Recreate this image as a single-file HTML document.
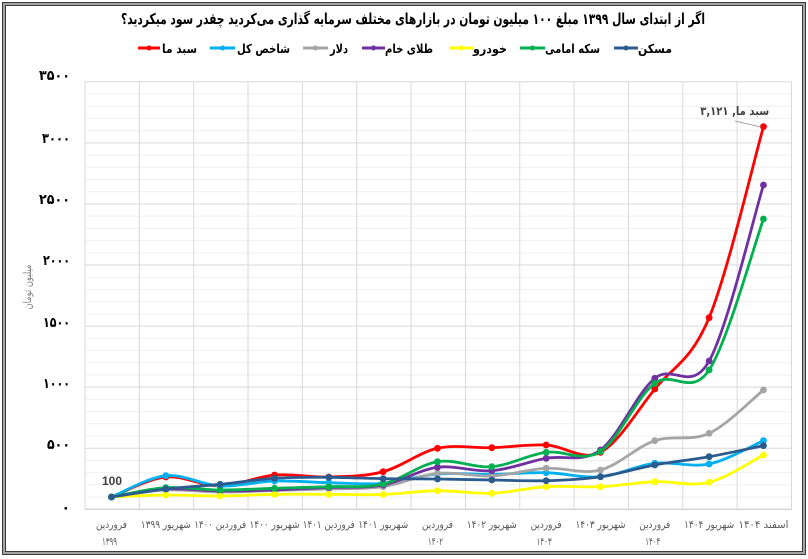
<!DOCTYPE html>
<html>
<head>
<meta charset="utf-8">
<style>
html,body{margin:0;padding:0;background:#fff;}
body{width:808px;height:559px;overflow:hidden;}
svg{display:block;}
.fa{font-family:"DejaVu Sans","Liberation Sans",sans-serif;}
</style>
</head>
<body>
<svg id="c" width="808" height="559" viewBox="0 0 808 559" xmlns="http://www.w3.org/2000/svg">
  <!-- frame -->
  <rect x="2" y="2" width="804" height="553" fill="#3c3c3c"/>
  <rect x="3" y="3" width="802" height="551" fill="#a3a3a3"/>
  <rect x="5" y="5" width="798" height="547" fill="#3c3c3c"/>
  <rect x="6" y="6" width="796" height="545" fill="#ffffff"/>

  <!-- title -->
  <text class="fa" x="413" y="24" font-size="15" font-weight="bold" fill="#000" text-anchor="middle" direction="rtl" textLength="584" lengthAdjust="spacingAndGlyphs">اگر از ابتدای سال ۱۳۹۹ مبلغ ۱۰۰ میلیون تومان  در بازارهای مختلف سرمایه گذاری می‌کردید چقدر سود میکردید؟</text>

  <!-- legend -->
  <g stroke-width="3" stroke-linecap="butt">
    <line x1="138" y1="48" x2="160" y2="48" stroke="#FF0000"/>
    <line x1="210" y1="48" x2="235" y2="48" stroke="#00B0F0"/>
    <line x1="303" y1="48" x2="328" y2="48" stroke="#A5A5A5"/>
    <line x1="362" y1="48" x2="385" y2="48" stroke="#7030A0"/>
    <line x1="449" y1="48" x2="473" y2="48" stroke="#FFFF00"/>
    <line x1="520" y1="48" x2="545" y2="48" stroke="#00B050"/>
    <line x1="614" y1="48" x2="638" y2="48" stroke="#2B5B8E"/>
  </g>
  <g>
    <circle cx="149" cy="48" r="2.5" fill="#FF0000"/>
    <circle cx="222.5" cy="48" r="2.5" fill="#00B0F0"/>
    <circle cx="315.5" cy="48" r="2.5" fill="#A5A5A5"/>
    <circle cx="373.5" cy="48" r="2.5" fill="#7030A0"/>
    <circle cx="461" cy="48" r="2.5" fill="#FFFF00"/>
    <circle cx="532.5" cy="48" r="2.5" fill="#00B050"/>
    <circle cx="626" cy="48" r="2.5" fill="#2B5B8E"/>
  </g>
  <g class="fa" font-size="12.5" font-weight="bold" fill="#000" text-anchor="middle" direction="rtl">
    <text x="179.5" y="53" textLength="35" lengthAdjust="spacingAndGlyphs">سبد ما</text>
    <text x="263.5" y="53" textLength="53" lengthAdjust="spacingAndGlyphs">شاخص کل</text>
    <text x="339" y="53" textLength="18" lengthAdjust="spacingAndGlyphs">دلار</text>
    <text x="409" y="53" textLength="48" lengthAdjust="spacingAndGlyphs">طلای خام</text>
    <text x="490" y="53" textLength="34" lengthAdjust="spacingAndGlyphs">خودرو</text>
    <text x="572.5" y="53" textLength="55" lengthAdjust="spacingAndGlyphs">سکه امامی</text>
    <text x="655" y="53" textLength="34" lengthAdjust="spacingAndGlyphs">مسکن</text>
  </g>

  <!-- grid -->
  <g id="grid"></g>

  <!-- y axis labels -->
  <g class="fa" font-size="14" font-weight="bold" fill="#000" text-anchor="end">
    <text x="70" y="80" textLength="31" lengthAdjust="spacingAndGlyphs">۳۵۰۰</text>
    <text x="70" y="143" textLength="28" lengthAdjust="spacingAndGlyphs">۳۰۰۰</text>
    <text x="70" y="204" textLength="31" lengthAdjust="spacingAndGlyphs">۲۵۰۰</text>
    <text x="70" y="265" textLength="27" lengthAdjust="spacingAndGlyphs">۲۰۰۰</text>
    <text x="70" y="327" textLength="27" lengthAdjust="spacingAndGlyphs">۱۵۰۰</text>
    <text x="70" y="388" textLength="27" lengthAdjust="spacingAndGlyphs">۱۰۰۰</text>
    <text x="70" y="449" textLength="23" lengthAdjust="spacingAndGlyphs">۵۰۰</text>
    <text x="70" y="512">۰</text>
  </g>

  <!-- y axis title -->
  <text class="fa" x="0" y="0" font-size="11" fill="#808080" text-anchor="middle" direction="rtl" transform="translate(31,287) rotate(-90)" textLength="45" lengthAdjust="spacingAndGlyphs">میلیون تومان</text>

  <!-- x axis labels -->
  <g class="fa" font-size="10.5" fill="#595959" text-anchor="middle" direction="rtl">
    <text x="111.5" y="528" textLength="31" lengthAdjust="spacingAndGlyphs">فروردین</text>
    <text x="109.5" y="545" textLength="15" lengthAdjust="spacingAndGlyphs">۱۳۹۹</text>
    <text x="165.8" y="528" textLength="50" lengthAdjust="spacingAndGlyphs">شهریور ۱۳۹۹</text>
    <text x="220.2" y="528" textLength="52" lengthAdjust="spacingAndGlyphs">فروردین ۱۴۰۰</text>
    <text x="274.5" y="528" textLength="50" lengthAdjust="spacingAndGlyphs">شهریور ۱۴۰۰</text>
    <text x="328.8" y="528" textLength="52" lengthAdjust="spacingAndGlyphs">فروردین ۱۴۰۱</text>
    <text x="383.2" y="528" textLength="50" lengthAdjust="spacingAndGlyphs">شهریور ۱۴۰۱</text>
    <text x="437.5" y="528" textLength="31" lengthAdjust="spacingAndGlyphs">فروردین</text>
    <text x="435.5" y="545" textLength="15" lengthAdjust="spacingAndGlyphs">۱۴۰۲</text>
    <text x="491.8" y="528" textLength="50" lengthAdjust="spacingAndGlyphs">شهریور ۱۴۰۲</text>
    <text x="546.1" y="528" textLength="31" lengthAdjust="spacingAndGlyphs">فروردین</text>
    <text x="544.1" y="545" textLength="15" lengthAdjust="spacingAndGlyphs">۱۴۰۳</text>
    <text x="600.5" y="528" textLength="50" lengthAdjust="spacingAndGlyphs">شهریور ۱۴۰۳</text>
    <text x="654.8" y="528" textLength="31" lengthAdjust="spacingAndGlyphs">فروردین</text>
    <text x="652.8" y="545" textLength="15" lengthAdjust="spacingAndGlyphs">۱۴۰۴</text>
    <text x="709.1" y="528" textLength="50" lengthAdjust="spacingAndGlyphs">شهریور ۱۴۰۴</text>
    <text x="763.5" y="528" textLength="50" lengthAdjust="spacingAndGlyphs">اسفند ۱۴۰۴</text>
  </g>

  <!-- series -->
  <g id="series"></g>

  <!-- data labels -->
  <text x="112" y="485" font-family="Liberation Sans, sans-serif" font-size="12" font-weight="bold" fill="#404040" text-anchor="middle">100</text>
  <line x1="735" y1="121" x2="761" y2="127" stroke="#8c8c8c" stroke-width="0.8"/>
  <text class="fa" x="734.7" y="115" font-size="12" font-weight="bold" fill="#404040" text-anchor="middle" direction="rtl" textLength="69" lengthAdjust="spacingAndGlyphs">سبد ما, ۳,۱۲۱</text>
</svg>
<script>
(function(){
  var NS="http://www.w3.org/2000/svg";
  var grid=document.getElementById("grid");
  var L=85, R=791.5, T=81.8, B=509.3;
  var step=(B-T)/35;
  function ln(x1,y1,x2,y2,c,w){var e=document.createElementNS(NS,"line");e.setAttribute("x1",x1);e.setAttribute("y1",y1);e.setAttribute("x2",x2);e.setAttribute("y2",y2);e.setAttribute("stroke",c);e.setAttribute("stroke-width",w||1);grid.appendChild(e);}
  for(var k=0;k<=35;k++){
    if(k%5!==0){var y=B-k*step;ln(L,y,R,y,"#efefef",1);}
  }
  for(var k=0;k<=35;k+=5){var y=B-k*step;ln(L,y,R,y,"#d9d9d9",1);}
  for(var k=0;k<=13;k++){var x=L+k*(R-L)/13;ln(x,T,x,B,"#d9d9d9",1);}
  ln(L,B,R,B,"#d0d0d0",1.2);

  function X(i){return 111.5+54.33*i;}
  var S=[
    ["#FF0000",[497,477,486,475,477,471.7,448.3,447.7,445,452.3,389,317.7,126.7]],
    ["#00B0F0",[497,475.7,486,481,482.7,483.3,474,474.3,472.7,476.7,463.3,464,440.7]],
    ["#A5A5A5",[497,490,492,490.5,489,486.7,473.3,476,468.3,470,440.7,433.3,390]],
    ["#7030A0",[497,489,491,490,487.5,485,467.3,470.7,458.3,450,378.3,361,185]],
    ["#FFFF00",[497,495,496,494.3,494.3,494.5,490.7,493.3,486.7,486.7,481.7,482.3,455]],
    ["#00B050",[497,487.7,490,488.3,486.7,484,461.7,466.7,452.3,451.5,383.3,370,219]],
    ["#2B5B8E",[497,489,484.3,478.3,477.3,478.7,479,480,480.7,476.7,465,456.7,445.7]]
  ];
  var g=document.getElementById("series");
  S.forEach(function(s){
    var c=s[0],ys=s[1],n=ys.length,p=[];
    for(var i=0;i<n;i++)p.push([X(i),ys[i]]);
    var d="M"+p[0][0].toFixed(2)+","+p[0][1].toFixed(2);
    for(var i=0;i<n-1;i++){
      var p0=p[Math.max(i-1,0)],p1=p[i],p2=p[i+1],p3=p[Math.min(i+2,n-1)];
      var c1x=p1[0]+(p2[0]-p0[0])/6,c1y=p1[1]+(p2[1]-p0[1])/6;
      var c2x=p2[0]-(p3[0]-p1[0])/6,c2y=p2[1]-(p3[1]-p1[1])/6;
      d+=" C"+c1x.toFixed(2)+","+c1y.toFixed(2)+" "+c2x.toFixed(2)+","+c2y.toFixed(2)+" "+p2[0].toFixed(2)+","+p2[1].toFixed(2);
    }
    var path=document.createElementNS(NS,"path");
    path.setAttribute("d",d);path.setAttribute("fill","none");path.setAttribute("stroke",c);
    path.setAttribute("stroke-width","2.8");path.setAttribute("stroke-linejoin","round");path.setAttribute("stroke-linecap","round");
    g.appendChild(path);
    for(var i=0;i<n;i++){
      var m=document.createElementNS(NS,"circle");
      m.setAttribute("cx",p[i][0]);m.setAttribute("cy",p[i][1]);m.setAttribute("r","3.4");m.setAttribute("fill",c);
      g.appendChild(m);
    }
  });
})();
</script>
</body>
</html>
